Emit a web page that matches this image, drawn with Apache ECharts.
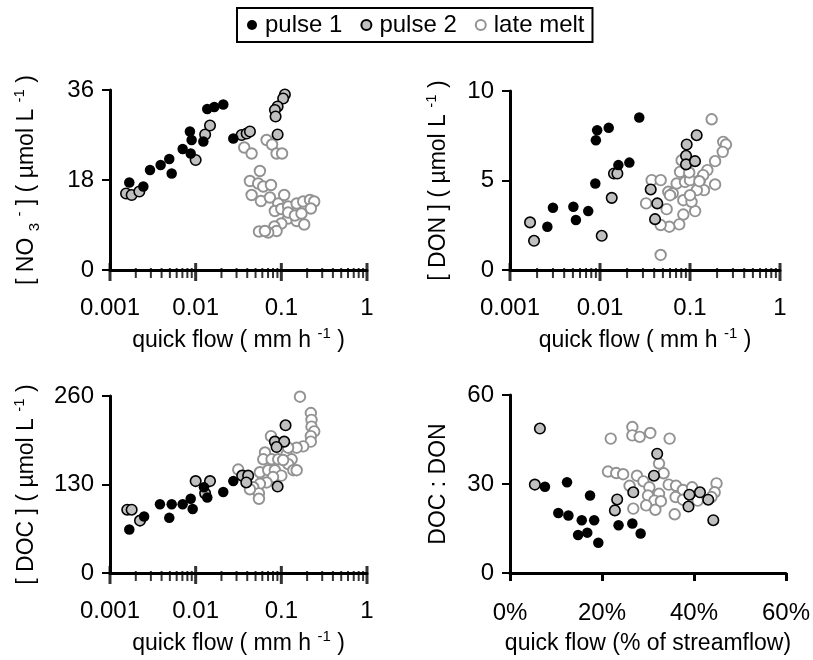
<!DOCTYPE html>
<html><head><meta charset="utf-8">
<script src="https://cdn.jsdelivr.net/npm/echarts@6/dist/echarts.min.js"></script>
<style>html,body{margin:0;padding:0;background:#fff}#c{width:813px;height:660px}</style>
</head><body><div id="c"></div>
<script>
// ---- data ----
const seriesNames = ["pulse 1", "pulse 2", "late melt"];
const logTickLabels = ["0.001", "0.01", "0.1", "1"];
const majorTickQ = [0.001, 0.01, 0.1, 1];
const minorTickQ = [0.002,0.003,0.004,0.005,0.006,0.007,0.008,0.009,
                    0.02,0.03,0.04,0.05,0.06,0.07,0.08,0.09,
                    0.2,0.3,0.4,0.5,0.6,0.7,0.8,0.9];

// Panel A: NO3
const no3P1Q = [0.00168,0.00245,0.00293,0.0039,0.00492,0.00525,0.00705,0.00857,0.00897,0.00875,0.0123,0.01366,0.0165,0.021,0.0275];
const no3P1V = [17.5,16.7,20,21,22.2,19.3,24.2,27.7,26,23.3,25.7,32.2,32.6,33.1,26.3];
const no3P2Q = [0.00154,0.00179,0.0022,0.01,0.0129,0.0147,0.0344,0.0394,0.043,0.110,0.105,0.0905,0.0842,0.0857,0.0905];
const no3P2V = [15.3,15,15.7,22,27.1,28.9,27,27.3,27.7,35.1,34.3,32.7,32,30.7,27.1];
const no3LmQ = [0.0369,0.045,0.0673,0.078,0.088,0.102,0.0562,0.043,0.0537,0.0615,0.0757,0.045,0.0578,0.0736,0.092,0.108,0.084,0.1,0.12,0.151,0.18,0.216,0.242,0.221,0.12,0.151,0.185,0.1,0.083,0.088,0.0703,0.0548,0.0644,0.12,0.144,0.172];
const no3LmV = [24.5,23.3,26,25.1,23.3,23.3,19.8,17.8,17.3,16.7,17,15,13.8,14.5,13.3,15,11.8,12.2,12.7,13.3,13.7,14,13.7,12.3,10.3,9.8,9.1,9.3,8.7,7.8,7.5,7.7,7.8,11.5,10.9,11.3];

// Panel B: DON
const donP1Q = [0.0026,0.003,0.00506,0.0054,0.0074,0.00887,0.009,0.0093,0.0125,0.016,0.0212,0.0273];
const donP1V = [2.42,3.48,3.53,2.79,3.29,4.83,7.25,7.81,7.94,5.86,6.0,8.52];
const donP2Q = [0.00167,0.00185,0.01045,0.0135,0.0143,0.0156,0.0366,0.0433,0.0409,0.0919,0.1186,0.0904,0.0904,0.1137];
const donP2V = [2.66,1.63,1.91,4.03,5.39,5.39,4.5,3.72,2.84,7.01,7.53,6.38,5.9,6.08];
const donLmQ = [0.174,0.234,0.251,0.231,0.19,0.156,0.129,0.14,0.19,0.143,0.114,0.0843,0.076,0.0589,0.0472,0.0472,0.0325,0.0375,0.0472,0.0574,0.0643,0.055,0.071,0.0843,0.104,0.088,0.0775,0.1,0.119,0.127,0.0807,0.098,0.06,0.1];
const donLmV = [8.42,7.16,7.01,6.6,6.08,5.58,5.02,5.3,4.78,4.46,3.29,3.1,2.55,2.42,2.51,0.84,3.72,5.02,5.02,4.37,4.28,3.4,4.83,3.9,3.81,4.92,5.48,5.02,4.46,4.96,6.13,5.45,4.18,4.18];

// Panel C: DOC
const docP1Q = [0.00168,0.0025,0.00383,0.00492,0.00525,0.00705,0.00875,0.00923,0.0125,0.01366,0.021,0.0275];
const docP1V = [64,83,101,81,101,101,109,94,126,111,119,135];
const docP2Q = [0.00159,0.00179,0.00224,0.01,0.0147,0.0129,0.112,0.084,0.108,0.088,0.0905,0.0349,0.041,0.039];
const docP2V = [93,93,77,135,135,117,217,193,193,185,127,143,143,133];
const docLmQ = [0.165,0.221,0.225,0.225,0.242,0.221,0.221,0.18,0.151,0.0757,0.0644,0.0615,0.077,0.092,0.115,0.132,0.12,0.138,0.151,0.0562,0.0703,0.084,0.1,0.08,0.0673,0.0562,0.047,0.0548,0.0548,0.043,0.0314,0.105,0.12];
const docLmV = [259,235,225,215,208,201,193,186,184,201,177,167,167,167,174,167,160,151,151,148,151,151,143,141,133,131,126,117,109,123,152,166,184];

// Panel D: DOC:DON vs quick flow %
const ratP1X = [7.6,12.4,17.4,10.5,12.7,15.6,18.3,16.8,14.8,19.2,23.6,26.6,28.4];
const ratP1Y = [29.1,30.6,26.1,20.2,19.4,17.8,17.8,13.6,12.8,10.2,16.1,16.7,13.3];
const ratP2X = [6.5,5.4,23.3,22.8,26.8,31.3,32,39,38.8,41.3,43.1,44.2];
const ratP2Y = [48.7,29.8,24.8,21.1,27.2,32.8,40.2,26.4,22.4,27.2,24.7,17.8];
const ratLmX = [21.9,26.6,26.6,28.2,30.5,34.7,21.3,23.1,24.6,27.6,32.4,33.4,26,29,30.3,32.4,30,31.4,29.6,26.8,31.6,32.8,34.5,36.1,37.6,39.6,36,37.6,35.8,44.9,44.5,43.8,40.8];
const ratLmY = [45.3,49.2,46.4,45.9,47.2,45.3,34.2,33.7,33.3,32.8,36.9,33.6,29.4,30.9,28.9,26.7,26.1,24.4,22.8,21.7,21.3,24.2,29.8,29.4,28,28.9,25.6,24.7,19.8,30.2,27.2,25.6,24.4];

// ---- chart ----
const FONT = 'Liberation Sans, Arial, sans-serif';
const zip = (a, b) => a.map((v, i) => [v, b[i]]);
const styles = [
  {color: '#000', borderColor: '#000', borderWidth: 0},
  {color: '#c0c0c0', borderColor: '#000', borderWidth: 1.6},
  {color: '#fff', borderColor: '#929292', borderWidth: 1.9}
];
const grids = [
  {left: 110, top: 90, width: 257, height: 180},
  {left: 510, top: 91, width: 270, height: 179},
  {left: 110, top: 396, width: 257, height: 179},
  {left: 510, top: 395, width: 277, height: 180}
];
const richName = {
  sub: {fontSize: 15, fontFamily: FONT, color: '#000', verticalAlign: 'bottom', lineHeight: 30},
  sup: {fontSize: 15, fontFamily: FONT, color: '#000', verticalAlign: 'top', lineHeight: 30}
};
const nameStyle = {fontSize: 23, fontFamily: FONT, color: '#000', lineHeight: 30, rich: richName};
const lineStyle = {color: '#000', width: 3};
const TICKFS = 24;

function logX(i) {
  return {
    type: 'log', logBase: 10, min: 0.001, max: 1, gridIndex: i,
    name: 'quick flow ( mm h {sup|-1} )', nameLocation: 'middle', nameGap: 56,
    nameTextStyle: nameStyle,
    axisLine: {lineStyle}, axisTick: {show: false}, splitLine: {show: false},
    axisLabel: {fontSize: TICKFS, fontFamily: FONT, color: '#000', margin: 26,
      formatter: v => logTickLabels[Math.round(Math.log10(v)) + 3]}
  };
}
function valY(i, max, interval, name, gap) {
  return {
    type: 'value', min: 0, max, interval, gridIndex: i,
    name, nameLocation: 'middle', nameRotate: 90, nameGap: gap, nameTextStyle: nameStyle,
    axisLine: {show: true, lineStyle}, axisTick: {show: true, length: 8, lineStyle: {color: '#000', width: 2}},
    splitLine: {show: false},
    axisLabel: {fontSize: TICKFS, fontFamily: FONT, color: '#000', margin: 16}
  };
}
const xAxis = [logX(0), logX(1), logX(2), {
  type: 'value', min: 0, max: 60, interval: 20, gridIndex: 3,
  name: 'quick flow (% of streamflow)', nameLocation: 'middle', nameGap: 56, nameTextStyle: nameStyle,
  axisLine: {lineStyle}, axisTick: {show: true, length: 8, lineStyle: {color: '#000', width: 3}},
  splitLine: {show: false},
  axisLabel: {fontSize: TICKFS, fontFamily: FONT, color: '#000', margin: 28, formatter: '{value}%'}
}];
const yAxis = [
  valY(0, 36, 18, '[ NO {sub|3} {sup|-} ] ( µmol L {sup|-1} )', 68),
  valY(1, 10, 5, '[ DON ] ( µmol L {sup|-1} )', 56),
  valY(2, 260, 130, '[ DOC ] ( µmol L {sup|-1} )', 68),
  valY(3, 60, 30, 'DOC : DON', 56)
];
const panels = [
  [[no3LmQ, no3LmV], [no3P2Q, no3P2V], [no3P1Q, no3P1V]],
  [[donLmQ, donLmV], [donP2Q, donP2V], [donP1Q, donP1V]],
  [[docLmQ, docLmV], [docP2Q, docP2V], [docP1Q, docP1V]],
  [[ratLmX, ratLmY], [ratP2X, ratP2Y], [ratP1X, ratP1Y]]
];
const series = [];
panels.forEach((p, gi) => {
  if (gi < 3) {
    series.push({type: 'scatter', xAxisIndex: gi, yAxisIndex: gi, silent: true, clip: false,
      symbol: 'rect', symbolSize: [2, 10], symbolOffset: [0, 3], z: 1,
      itemStyle: {color: '#000'}, data: minorTickQ.map(q => [q, 0])});
    series.push({type: 'scatter', xAxisIndex: gi, yAxisIndex: gi, silent: true, clip: false,
      symbol: 'rect', symbolSize: [3, 18], symbolOffset: [0, 2], z: 1,
      itemStyle: {color: '#000'}, data: majorTickQ.map(q => [q, 0])});
  }
  [2, 1, 0].forEach((si, k) => {
    series.push({
      name: seriesNames[si], type: 'scatter', xAxisIndex: gi, yAxisIndex: gi,
      symbol: 'circle', symbolSize: 10.5, z: 3 + k,
      itemStyle: Object.assign({opacity: 1}, styles[si]),
      data: zip(p[k][0], p[k][1])
    });
  });
});

const chart = echarts.init(document.getElementById('c'), null, {renderer: 'canvas'});
chart.setOption({
  animation: false,
  backgroundColor: '#fff',
  legend: {
    data: seriesNames, left: 237, top: 8, orient: 'horizontal',
    icon: 'circle', itemWidth: 10, itemHeight: 10, itemGap: 18,
    borderColor: '#000', borderWidth: 2, borderRadius: 0, padding: [5, 8, 5, 10],
    textStyle: {fontSize: 24, fontFamily: FONT, color: '#000', padding: [0, 0, 0, 3]},
    selectedMode: false
  },
  grid: grids,
  xAxis, yAxis, series
});
</script></body></html>
